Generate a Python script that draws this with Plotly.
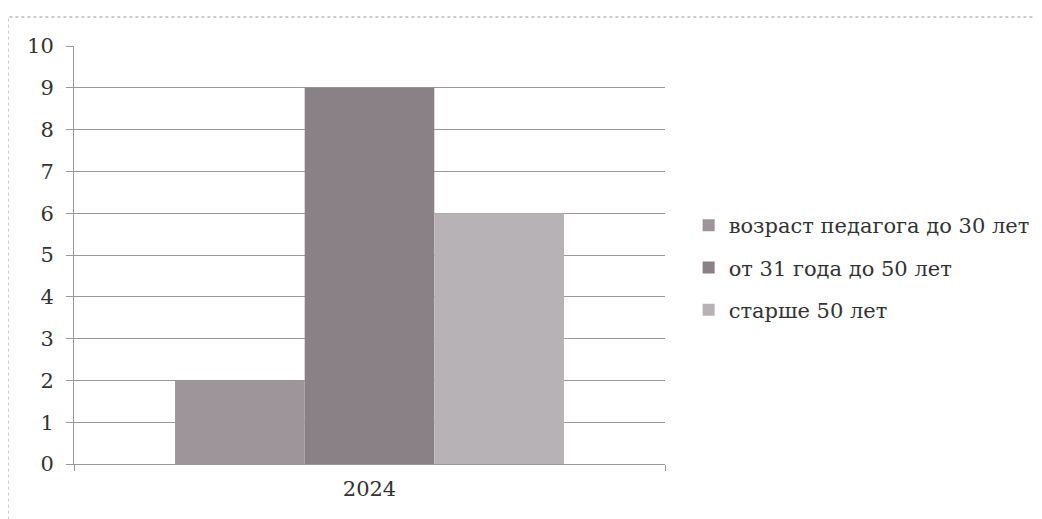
import plotly.graph_objects as go

categories = ["2024"]
series_names = ["возраст педагога до 30 лет", "от 31 года до 50 лет", "старше 50 лет"]
series_values = [[2], [9], [6]]
colors = ["#9d9599", "#8a8186", "#b7b2b5"]

FONT = "DejaVu Serif"

fig = go.Figure()
for i, (name, vals) in enumerate(zip(series_names, series_values)):
    fig.add_trace(go.Bar(
        x=categories, y=vals, name=name,
        marker=dict(color=colors[i], line=dict(width=0)),
        legendgroup=f"g{i}",
    ))

fig.update_layout(
    width=1034, height=511,
    margin=dict(l=66, r=377, t=38, b=55, autoexpand=False),
    paper_bgcolor="white", plot_bgcolor="white",
    barmode="group", bargap=0.342, bargroupgap=0,
    font=dict(family=FONT, size=21, color="#333333"),
    legend=dict(
        x=1.04, xanchor="left", y=0.47, yanchor="middle",
        font=dict(family=FONT, size=21, color="#333333"),
        tracegroupgap=12, itemwidth=30,
    ),
    showlegend=True,
)
fig.update_yaxes(
    range=[0, 10], dtick=1, showgrid=True, gridcolor="#999999", gridwidth=1,
    showline=True, linecolor="#999999", linewidth=1,
    ticks="outside", ticklen=7, tickcolor="#999999",
    tickfont=dict(family=FONT, size=21, color="#333333"),
    zeroline=False, ticklabelstandoff=8,
)
fig.update_xaxes(
    showline=True, linecolor="#999999", linewidth=1,
    ticks="outside", tickson="boundaries", ticklen=6, tickcolor="#999999",
    tickfont=dict(family=FONT, size=21, color="#333333"),
    ticklabelstandoff=6,
)
fig.add_shape(type="rect", xref="paper", yref="paper",
              x0=-66/591, x1=(1060-66)/591, y0=-0.3, y1=(38+418-9)/418,
              line=dict(color="#9a9a9a", width=1, dash="dot"), layer="below")

fig.write_html("out.html")
